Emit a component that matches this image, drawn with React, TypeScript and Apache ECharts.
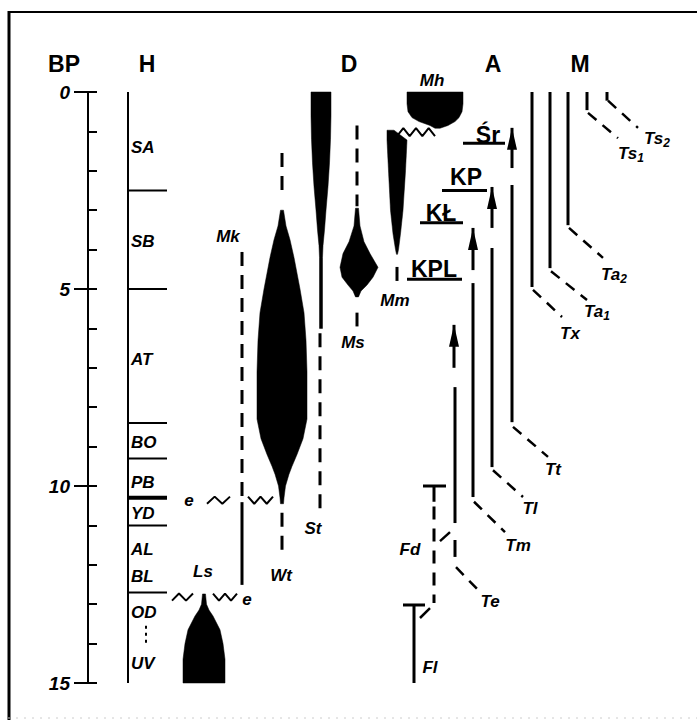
import React, { useEffect, useRef } from 'react';
import * as echarts from 'echarts';

// ---------- layout (pixels) ----------
const AXIS_X = 88;
const GRID_TOP = 92;
const GRID_H = 591;
const GRID_W = 602;
const X = (px: number) => px - AXIS_X;

// ---------- data ----------
// BP axis (thousands of years)
const bpMajorTicks = [0, 5, 10, 15];

// H column: climatic periods
const periodBoundaries = [2.5, 5.0, 8.4, 9.3, 10.3, 11.0, 12.7];
const periodNames = ['SA', 'SB', 'AT', 'BO', 'PB', 'YD', 'AL', 'BL', 'OD', 'UV'];
const periodLabelBp = [1.4, 3.8, 6.8, 8.9, 9.9, 10.7, 11.6, 12.3, 13.2, 14.5];

// D column abundance profiles: [BP, left half-width, right half-width]
type Prof = [number, number, number][];
const lsProfile: Prof = [[12.74, 1.5, 1.5], [13.0, 2.5, 2.5], [13.15, 5, 5], [13.3, 9, 9], [13.65, 16, 16], [14.0, 19, 19], [14.4, 21, 21], [15, 21, 21]];
const wtProfile: Prof = [[3.0, 1.5, 1.5], [3.4, 4, 4], [3.75, 8, 8], [4.2, 12, 12], [5.0, 18, 18], [5.6, 22, 22], [6.3, 24, 24], [7.1, 25, 25], [8.3, 25, 25], [8.8, 21, 21], [9.2, 15, 15], [9.5, 10, 10], [9.7, 7, 7], [10.0, 3.5, 3.5], [10.3, 2, 2], [10.45, 1.5, 1.5]];
const stProfile: Prof = [[0, 10, 10], [0.6, 10, 10], [1.2, 9.5, 9.5], [1.8, 8.5, 8.5], [2.4, 7, 7], [3.0, 5, 5], [3.5, 3.5, 3.5], [3.9, 2, 2], [4.2, 1.5, 1.5], [6.0, 1.5, 1.5]];
const msProfile: Prof = [[2.95, 1.5, 1.5], [3.4, 3, 3], [3.8, 8, 7], [4.1, 14, 13], [4.45, 17, 21], [4.7, 15, 16], [4.9, 9, 10], [5.05, 4, 4], [5.2, 1.5, 1.5]];
const mmProfile: Prof = [[0.97, 10, -3], [1.22, 10, 10], [2.0, 8.5, 8.5], [3.0, 6.5, 6], [3.6, 4, 3.5], [4.0, 1.5, 1.5], [4.12, 0.5, 0.5]];
const mhProfile: Prof = [[0, 28, 28], [0.3, 28, 28], [0.5, 27, 27], [0.65, 23, 24], [0.75, 16, 20], [0.85, 5, 13], [0.92, 0, 5]];

const shapeNames = ['Ls', 'Wt', 'St', 'Ms', 'Mm', 'Mh'];
const shapeProfiles = [lsProfile, wtProfile, stProfile, msProfile, mmProfile, mhProfile];
const shapeColumnX = [204, 282, 321, 357, 397, 435];

// D column: dashed (uncertain) / solid ranges [x, from, to]
const dDashed: [number, number, number][] = [[242, 4.06, 10.3], [282, 1.55, 2.67], [282, 10.68, 11.83], [320, 6.12, 10.6], [357, 0.85, 2.9], [357, 5.6, 5.95], [397, 4.44, 4.82]];
const dSolid: [number, number, number][] = [[242, 10.41, 12.51]];

// A / M columns: taxa ranges
const tNames = ['Tx', 'Ta{s|1}', 'Ta{s|2}', 'Ts{s|1}', 'Ts{s|2}', 'Tt', 'Tl', 'Tm', 'Te'];
const tColumnX = [532, 550, 568, 587, 607, 512, 492, 473, 455];
const tLineStart = [0, 0, 0, 0, 0, 2.36, 3.96, 4.85, 7.49];
const tLineEnd = [4.95, 4.47, 3.38, 0.46, 0.22, 8.38, 9.52, 10.28, 10.94];
const tDiagStart = [5.02, 4.55, 3.45, 0.53, 0.22, 8.5, 9.6, 10.4, 12.06];
const tDiagEnd = [5.71, 5.28, 4.21, 1.17, 0.91, 9.26, 10.28, 11.17, 12.69];
const tDiagDx = [30, 37, 35, 31, 31, 36, 31, 32, 25];
const tLabelX = [570, 597, 614, 631, 657, 553, 530, 518, 490];
const tLabelBp = [6.12, 5.58, 4.64, 1.55, 1.17, 9.59, 10.56, 11.5, 12.94];
const teDashed = [11.37, 11.8];

// A column: cultures with arrows
const cultureNames = ['Śr', 'KP', 'KŁ', 'KPL'];
const cultureLabelX = [488, 466, 441, 434];
const cultureLabelBp = [1.08, 2.15, 3.06, 4.5];
const cultureUnderline: [number, number, number][] = [[463, 505, 1.3], [442, 487, 2.5], [420, 463, 3.32], [407, 462, 4.75]];
const arrowX = [512, 492, 473, 454];
const arrowTipBp = [0.91, 2.41, 3.45, 5.91];
const arrowTailBp = [1.93, 3.45, 4.52, 7.0];

// Fd / Fl
const fdBar = 10.0, fdSolidEnd = 10.4, fdDashEnd = 12.97;
const flBar = 13.02, flEnd = 15;

// other labels [text, x, bp]
const otherLabels: [string, number, number][] = [
  ['Ls', 203, 12.18], ['Mk', 228, 3.68], ['Wt', 281, 12.26], ['St', 313, 11.07],
  ['Ms', 353, 6.35], ['Mm', 395, 5.28], ['Mh', 432, -0.3], ['Fd', 410, 11.62],
  ['Fl', 430, 14.6], ['e', 189, 10.36], ['e', 247, 12.89],
];

const headers: [string, number][] = [['BP', 64], ['H', 147], ['D', 349], ['A', 493], ['M', 580]];

// ---------- helpers ----------
const FONT = 'Liberation Sans';

function seg(points: [number, number][], width = 3, dash?: number[]) {
  return {
    type: 'line',
    xAxisIndex: 0,
    yAxisIndex: 0,
    data: points.map(([x, bp]) => [X(x), bp]),
    symbol: 'none',
    silent: true,
    clip: false,
    z: 3,
    lineStyle: { color: '#000', width, type: dash ? dash : 'solid', cap: 'butt' },
  };
}

function zig(x0: number, x1: number, bp: number, n: number, amp: number, up: boolean): [number, number][] {
  const pts: [number, number][] = [];
  for (let i = 0; i <= n; i++) {
    const hi = (i % 2 === 0) === up;
    pts.push([x0 + ((x1 - x0) * i) / n, bp + (hi ? -amp : amp)]);
  }
  return pts;
}

const smallLabel = {
  fontFamily: FONT,
  fontStyle: 'italic',
  fontWeight: 'bold',
  fontSize: 17,
  color: '#000',
  opacity: 1,
  textBorderWidth: 0,
};

function textItem(text: string, x: number, bp: number, extra: any = {}) {
  return {
    value: [X(x), bp],
    label: {
      show: true,
      position: 'inside',
      formatter: text,
      ...smallLabel,
      rich: {
        s: { ...smallLabel, fontSize: 12, padding: [9, 0, 0, 0] },
      },
      ...extra,
    },
  };
}

export default function App() {
  const ref = useRef<HTMLDivElement>(null);

  useEffect(() => {
    if (!ref.current) return;
    const chart = echarts.init(ref.current, null, { renderer: 'svg' });

    const series: any[] = [];

    // H column
    series.push(seg([[128, 0], [128, 15]], 2));
    periodBoundaries.forEach((bp, i) => {
      series.push(seg([[128, bp], [167, bp]], i === 4 ? 4 : 2));
    });
    series.push(seg([[146, 13.55], [146, 14.05]], 2, [3, 4]));

    // D column shapes
    series.push({
      type: 'custom',
      xAxisIndex: 0,
      yAxisIndex: 0,
      silent: true,
      clip: false,
      z: 4,
      data: shapeProfiles.map((p, i) => [X(shapeColumnX[i]), p[0][0], i]),
      renderItem: (params: any, api: any) => {
        const i = params.dataIndex;
        const prof = shapeProfiles[i];
        const cx = X(shapeColumnX[i]);
        const left = prof.map(([bp, l]) => api.coord([cx - l, bp]));
        const right = prof.slice().reverse().map(([bp, , r]) => api.coord([cx + r, bp]));
        return {
          type: 'polygon',
          shape: { points: left.concat(right) },
          style: { fill: '#000', stroke: '#000', lineWidth: 0.5 },
        };
      },
    });

    dDashed.forEach(([x, a, b]) => series.push(seg([[x, a], [x, b]], 3, [14, 9])));
    dSolid.forEach(([x, a, b]) => series.push(seg([[x, a], [x, b]], 3)));

    // zigzags
    series.push(seg(zig(172, 193, 12.82, 3, 0.09, false), 2));
    series.push(seg(zig(213, 237, 12.82, 4, 0.09, true), 2));
    series.push(seg(zig(207, 230, 10.36, 3, 0.09, false), 2));
    series.push(seg(zig(248, 273, 10.36, 4, 0.09, true), 2));
    series.push(seg(zig(397, 435, 1.02, 6, 0.1, false), 2));

    // taxa lines in A / M
    tNames.forEach((_, i) => {
      const x = tColumnX[i];
      series.push(seg([[x, tLineStart[i]], [x, tLineEnd[i]]], 3));
      series.push(seg([[x + 1, tDiagStart[i]], [x + tDiagDx[i], tDiagEnd[i]]], 2.5, [11, 8]));
    });
    series.push(seg([[455, teDashed[0]], [455, teDashed[1]]], 3));

    // Fd / Fl
    series.push(seg([[423, fdBar], [446, fdBar]], 3));
    series.push(seg([[434, fdBar], [434, fdSolidEnd]], 3));
    series.push(seg([[434, fdSolidEnd + 0.12], [434, fdDashEnd]], 3, [13, 9]));
    series.push(seg([[440, 11.4], [450, 11.17]], 2.5));
    series.push(seg([[403, flBar], [425, flBar]], 3));
    series.push(seg([[414, flBar], [414, flEnd]], 3));
    series.push(seg([[420, 13.35], [430, 13.1]], 2.5));

    // culture underlines
    cultureUnderline.forEach(([x0, x1, bp]) => series.push(seg([[x0, bp], [x1, bp]], 3)));

    // arrows
    arrowX.forEach((x, i) => {
      series.push({
        type: 'line',
        xAxisIndex: 0,
        yAxisIndex: 0,
        silent: true,
        clip: false,
        z: 5,
        showSymbol: true,
        showAllSymbol: true,
        lineStyle: { color: '#000', width: 3 },
        itemStyle: { color: '#000' },
        data: [
          { value: [X(x), arrowTipBp[i]], symbol: 'triangle', symbolSize: [10, 22], symbolOffset: [0, '50%'] },
          { value: [X(x), arrowTailBp[i]], symbol: 'none' },
        ],
      });
    });

    // labels
    const labelData: any[] = [];
    periodNames.forEach((n, i) => {
      labelData.push(textItem(n, 131, periodLabelBp[i], { position: 'right', distance: 0, align: 'left' }));
    });
    otherLabels.forEach(([t, x, bp]) => labelData.push(textItem(t, x, bp)));
    tNames.forEach((t, i) => labelData.push(textItem(t, tLabelX[i], tLabelBp[i])));
    cultureNames.forEach((t, i) =>
      labelData.push(textItem(t, cultureLabelX[i], cultureLabelBp[i], { fontStyle: 'normal', fontSize: 23, fontWeight: 'bold' }))
    );
    series.push({
      type: 'scatter',
      xAxisIndex: 0,
      yAxisIndex: 0,
      silent: true,
      clip: false,
      z: 10,
      symbolSize: 0,
      itemStyle: { color: '#000', opacity: 1 },
      data: labelData,
    });

    chart.setOption({
      animation: false,
      backgroundColor: '#fff',
      grid: { left: AXIS_X, top: GRID_TOP, width: GRID_W, height: GRID_H, containLabel: false },
      xAxis: { type: 'value', min: 0, max: GRID_W, show: false },
      yAxis: [
        {
          type: 'value', min: 0, max: 15, interval: 1, inverse: true, position: 'left',
          axisLine: { show: true, onZero: false, lineStyle: { color: '#000', width: 2 } },
          axisTick: { show: true, inside: true, length: 9, lineStyle: { color: '#000', width: 2 } },
          axisLabel: { show: false },
          splitLine: { show: false },
        },
        {
          type: 'value', min: 0, max: 15, interval: 5, inverse: true, position: 'left',
          axisLine: { show: false, onZero: false },
          axisTick: { show: true, inside: false, length: 14, lineStyle: { color: '#000', width: 2 } },
          axisLabel: {
            show: true, margin: 18, fontSize: 19, fontStyle: 'italic', fontWeight: 'bold', color: '#000', fontFamily: FONT,
            formatter: (v: number) => (bpMajorTicks.includes(v) ? String(v) : ''),
          },
          splitLine: { show: false },
        },
      ],
      graphic: [
        { type: 'line', shape: { x1: 9, y1: 11, x2: 9, y2: 720 }, style: { stroke: '#000', lineWidth: 3 } },
        { type: 'line', shape: { x1: 8, y1: 12, x2: 697, y2: 12 }, style: { stroke: '#000', lineWidth: 2 } },
        { type: 'line', shape: { x1: 8, y1: 718, x2: 697, y2: 718 }, style: { stroke: '#ccc', lineWidth: 1, lineDash: [2, 6] } },
        ...headers.map(([t, x]) => ({
          type: 'text',
          x, y: 64,
          style: { text: t, x: 0, y: 0, align: 'center', verticalAlign: 'middle', fontSize: 23, fontWeight: 'bold', fontFamily: FONT, fill: '#000' },
        })),
      ],
      series,
    });

    return () => chart.dispose();
  }, []);

  return <div ref={ref} style={{ position: 'absolute', left: 0, top: 0, width: 697, height: 720, background: '#fff' }} />;
}
